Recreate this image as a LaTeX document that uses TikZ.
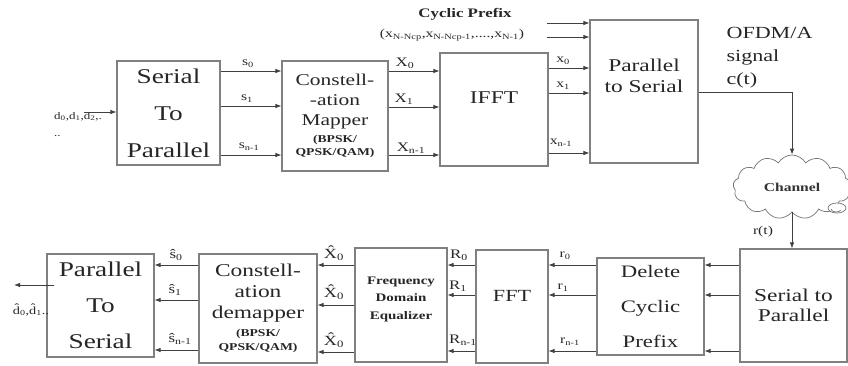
\documentclass[tikz,border=0pt]{standalone}
\usepackage{fontspec}
\setmainfont{Liberation Serif}[FakeStretch=1.3]
\usetikzlibrary{arrows.meta,positioning,shapes.symbols,calc}
\newcommand{\fs}[2]{\fontsize{#1}{#2}\selectfont}
\newcommand{\modtxt}{\bfseries\fs{10.5}{13}}

\begin{document}
\begin{tikzpicture}[x=1pt, y=-1pt,
    block/.style={rectangle, draw=black!50, line width=1.1pt, fill=white, align=center, inner sep=0pt, text=black!85},
    arrow/.style={-{Latex[length=6pt,width=4.5pt]}, line width=0.8pt, draw=black!75},
    sig/.style={font=\fs{12}{13}, text=black!85, inner sep=1pt},
    cloudline/.style={draw=black!55, line width=0.7pt},
  ]
  \useasboundingbox (0,0) rectangle (848,365);

  % Transmitter
  \node[block, minimum width=103pt, minimum height=104pt, font=\fs{21}{37}] (sp) at (168.5,113) {Serial\\To\\Parallel};
  \node[block, minimum width=106pt, minimum height=110pt, font=\fs{16.5}{20}] (cmap) at (335,116) {Constell-\\-ation\\Mapper\\[-3pt]{\modtxt (BPSK/}\\[-7pt]{\modtxt QPSK/QAM)}};
  \node[block, minimum width=108pt, minimum height=113pt, font=\fs{18}{20}] (ifft) at (494,109.5) {\raisebox{24pt}{IFFT}};
  \node[block, minimum width=108pt, minimum height=143pt, font=\fs{18}{20}] (ps) at (644,91.5) {\raisebox{32pt}{\shortstack{Parallel\\[5pt]to Serial}}};

  \coordinate (din) at (84,112);
  \node[sig, font=\fs{10}{17}, align=left, anchor=north west] (din-t) at (53,111) {d\textsubscript{0},d\textsubscript{1},d\textsubscript{2},.\\..};
  \draw[arrow] (din) -- (sp.west |- din);

  \draw[arrow] (sp.east |- 0,71) -- (cmap.west |- 0,71);
  \draw[arrow] (sp.east |- 0,106) -- (cmap.west |- 0,106);
  \draw[arrow] (sp.east |- 0,155) -- (cmap.west |- 0,155);
  \node[sig] (s0) at (248,64) {s\textsubscript{0}};
  \node[sig] (s1) at (247,99) {s\textsubscript{1}};
  \node[sig] (sn) at (249,147) {s\textsubscript{n-1}};

  \draw[arrow] (cmap.east |- 0,71) -- (ifft.west |- 0,71);
  \draw[arrow] (cmap.east |- 0,107) -- (ifft.west |- 0,107);
  \draw[arrow] (cmap.east |- 0,155) -- (ifft.west |- 0,155);
  \node[sig, font=\fs{13}{14}] (X0) at (405,63) {X\textsubscript{0}};
  \node[sig, font=\fs{13}{14}] (X1) at (404,99) {X\textsubscript{1}};
  \node[sig, font=\fs{13}{14}] (Xn) at (411,148) {X\textsubscript{n-1}};

  \draw[arrow] (ifft.east |- 0,68) -- (ps.west |- 0,68);
  \draw[arrow] (ifft.east |- 0,93) -- (ps.west |- 0,93);
  \draw[arrow] (ifft.east |- 0,153) -- (ps.west |- 0,153);
  \node[sig] (x0) at (563,61) {x\textsubscript{0}};
  \node[sig] (x1) at (563,86) {x\textsubscript{1}};
  \node[sig] (xn) at (561,143) {x\textsubscript{n-1}};

  % Cyclic prefix
  \node[font=\bfseries\fs{13}{15}, text=black!85] (cp-t) at (465,14) {Cyclic Prefix};
  \node[sig] (cp-x) at (452,35) {(x\textsubscript{N-Ncp},x\textsubscript{N-Ncp-1},....,x\textsubscript{N-1})};
  \coordinate (cp-a) at (547,23);
  \coordinate (cp-b) at (547,37);
  \draw[arrow] (cp-a) -- (ps.west |- cp-a);
  \draw[arrow] (cp-b) -- (ps.west |- cp-b);

  % Channel
  \node[font=\fs{17}{23}, align=left, anchor=west, text=black!85] (ofdm) at (723,58) {OFDM/A\\signal\\c(t)};
  \node[cloud, cloudline, cloud puffs=13, cloud puff arc=120, aspect=1.9, minimum width=118pt, minimum height=64pt, font=\bfseries\fs{12}{14}, text=black!80] (chan) at (792,187) {Channel};
  \draw[cloudline, fill=white] (837,208) ellipse (9 and 5);
  \draw[cloudline] (831,209) arc (180:20:5 and 3);
  \draw[arrow] (ps.east |- 0,92) -| (chan.north);

  % Receiver
  \node[block, minimum width=107pt, minimum height=113pt, font=\fs{18}{20}] (stp) at (793.5,305.5) {Serial to\\Parallel};
  \node[block, minimum width=107pt, minimum height=97pt, font=\fs{17.5}{35}] (dcp) at (650.5,306.5) {Delete\\Cyclic\\Prefix};
  \node[block, minimum width=72pt, minimum height=113pt, font=\fs{17}{20}] (fft) at (512,306.5) {\raisebox{22pt}{FFT}};
  \node[block, minimum width=92pt, minimum height=114pt, font=\bfseries\fs{11.5}{18}] (fde) at (401,305) {\raisebox{14pt}{\shortstack{Frequency\\[4pt]Domain\\[6pt]Equalizer}}};
  \node[block, minimum width=118pt, minimum height=109pt, font=\fs{18}{21}] (cdm) at (258,308.5) {Constell-\\ation\\demapper\\[-3pt]{\modtxt (BPSK/}\\[-7pt]{\modtxt QPSK/QAM)}};
  \node[block, minimum width=107pt, minimum height=103pt, font=\fs{21}{36}] (pts) at (100.5,305.5) {Parallel\\To\\Serial};

  \draw[arrow] (chan.south) -- (chan.south |- stp.north);
  \node[sig] (rt) at (763,232) {r(t)};

  \draw[arrow] (stp.west |- 0,265) -- (dcp.east |- 0,265);
  \draw[arrow] (stp.west |- 0,295) -- (dcp.east |- 0,295);
  \draw[arrow] (stp.west |- 0,351) -- (dcp.east |- 0,351);

  \draw[arrow] (dcp.west |- 0,265) -- (fft.east |- 0,265);
  \draw[arrow] (dcp.west |- 0,295) -- (fft.east |- 0,295);
  \draw[arrow] (dcp.west |- 0,351) -- (fft.east |- 0,351);
  \node[sig] (r0) at (565,256) {r\textsubscript{0}};
  \node[sig] (r1) at (563,288) {r\textsubscript{1}};
  \node[sig] (rn) at (570,342) {r\textsubscript{n-1}};

  \draw[arrow] (fft.west |- 0,265) -- (fde.east |- 0,265);
  \draw[arrow] (fft.west |- 0,295) -- (fde.east |- 0,295);
  \draw[arrow] (fft.west |- 0,351) -- (fde.east |- 0,351);
  \node[sig, font=\fs{13}{14}] (R0) at (459,255) {R\textsubscript{0}};
  \node[sig, font=\fs{13}{14}] (R1) at (458,286) {R\textsubscript{1}};
  \node[sig, font=\fs{13}{14}] (Rn) at (463,340) {R\textsubscript{n-1}};

  \draw[arrow] (fde.west |- 0,265) -- (cdm.east |- 0,265);
  \draw[arrow] (fde.west |- 0,305) -- (cdm.east |- 0,305);
  \draw[arrow] (fde.west |- 0,352) -- (cdm.east |- 0,352);
  \node[sig, font=\fs{14}{15}] (Xh0) at (334,253) {\^{X}\textsubscript{0}};
  \node[sig, font=\fs{14}{15}] (Xh1) at (334,292) {\^{X}\textsubscript{0}};
  \node[sig, font=\fs{14}{15}] (Xh2) at (334,340) {\^{X}\textsubscript{0}};

  \draw[arrow] (cdm.west |- 0,265) -- (pts.east |- 0,265);
  \draw[arrow] (cdm.west |- 0,300) -- (pts.east |- 0,300);
  \draw[arrow] (cdm.west |- 0,350) -- (pts.east |- 0,350);
  \node[sig, font=\fs{13}{14}] (sh0) at (176,255) {\^{s}\textsubscript{0}};
  \node[sig, font=\fs{13}{14}] (sh1) at (175,290) {\^{s}\textsubscript{1}};
  \node[sig, font=\fs{13}{14}] (shn) at (180,339) {\^{s}\textsubscript{n-1}};

  \coordinate (dout) at (14,285);
  \draw[arrow] ($(pts.west |- dout)+(8,0)$) -- (dout);
  \node[sig, font=\fs{11}{12}] (dout-t) at (31,310) {\^{d}\textsubscript{0},\^{d}\textsubscript{1}..};
\end{tikzpicture}
\end{document}
